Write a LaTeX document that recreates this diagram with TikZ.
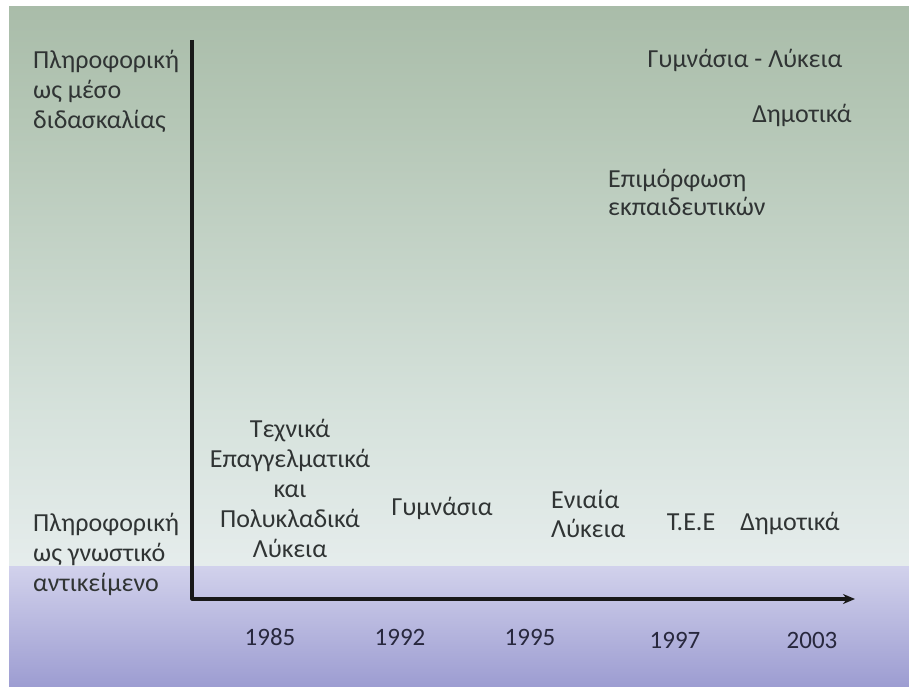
\documentclass[tikz,border=0pt]{standalone}
\usepackage{fontspec}
\setmainfont{Carlito}
\usetikzlibrary{arrows.meta}
\definecolor{bgA}{RGB}{141,163,138}
\definecolor{bgB}{RGB}{180,198,181}
\definecolor{bgC}{RGB}{214,226,220}
\definecolor{bgD}{RGB}{236,241,243}
\definecolor{bgE}{RGB}{244,245,251}
\definecolor{lavtop}{RGB}{236,236,249}
\definecolor{lavbot}{RGB}{130,130,196}
\definecolor{ink}{RGB}{48,52,52}
\definecolor{yearink}{RGB}{40,40,62}
\pgfdeclareverticalshading{upperbg}{100bp}{
  color(0bp)=(bgE); color(19bp)=(bgD); color(38.6bp)=(bgC); color(65.5bp)=(bgB); color(100bp)=(bgA)}
\pgfdeclareverticalshading{lowerbg}{100bp}{
  color(0bp)=(lavbot); color(100bp)=(lavtop)}
% rows of text, first row's baseline is the box baseline
\newcommand{\stackrows}[2]{\begin{tabular}[t]{@{}#1@{}}#2\end{tabular}}
\tikzset{
  lbl/.style={font=\fontsize{26}{30}\selectfont, text=ink, inner sep=0pt},
  yr/.style={font=\fontsize{25}{30}\selectfont, text=yearink, inner sep=0pt, anchor=base},
  axisline/.style={line width=3.2pt, draw=black!90, line join=round}
}
\begin{document}
\begin{tikzpicture}[x=1pt,y=-1pt]
\useasboundingbox (0,0) rectangle (909,687);
% background panels
\fill[white] (0,0) rectangle (909,687);
\shade[shading=upperbg] (9,7) rectangle (909,566);
\shade[shading=lowerbg] (9,566) rectangle (909,687);
% axes
\coordinate (top) at (192,40);
\coordinate (origin) at (192,599);
\coordinate (tip) at (855,599);
\draw[axisline, -{Stealth[length=12pt,width=10pt]}] (top) -- (origin) -- (tip);
% axis category labels
\node[lbl, anchor=base west] (media) at (33,69) {\stackrows{l}{Πληροφορική\\ως μέσο\\διδασκαλίας}};
\node[lbl, anchor=base west] (subject) at (33,531) {\stackrows{l}{Πληροφορική\\ως γνωστικό\\αντικείμενο}};
% upper region entries
\node[lbl, anchor=base] (gymlyk) at (745,68) {Γυμνάσια - Λύκεια};
\node[lbl, anchor=base] (dimotika2) at (802,123) {Δημοτικά};
\node[lbl, anchor=base west, font=\fontsize{26}{28}\selectfont] (epim) at (608,187) {\stackrows{l}{Επιμόρφωση\\εκπαιδευτικών}};
% lower region entries
\node[lbl, anchor=base] (tel) at (290,437) {\stackrows{c}{Τεχνικά\\Επαγγελματικά\\και\\Πολυκλαδικά\\Λύκεια}};
\node[lbl, anchor=base] (gym) at (442,515) {Γυμνάσια};
\node[lbl, anchor=base west, font=\fontsize{26}{29}\selectfont] (eniaia) at (551,508) {\stackrows{l}{Ενιαία\\Λύκεια}};
\node[lbl, anchor=base] (tee) at (691,530) {Τ.Ε.Ε};
\node[lbl, anchor=base] (dimotika1) at (790,530) {Δημοτικά};
% years
\node[yr] (y1985) at (270,645) {1985};
\node[yr] (y1992) at (400,645) {1992};
\node[yr] (y1995) at (530,645) {1995};
\node[yr] (y1997) at (675,648) {1997};
\node[yr] (y2003) at (812,648) {2003};
\end{tikzpicture}
\end{document}
